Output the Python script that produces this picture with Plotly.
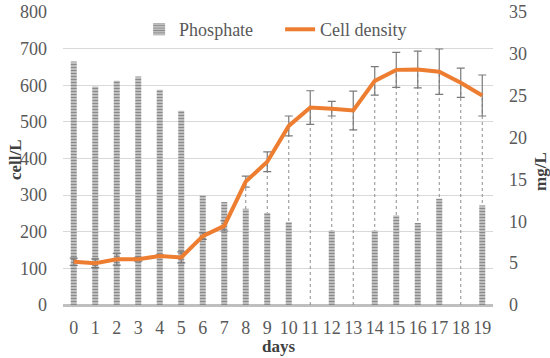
import plotly.graph_objects as go

days = list(range(20))
day_labels = [str(d) for d in days]
cell_density = [118, 114, 125, 125, 134, 130, 188, 216, 337, 391, 489, 539, 536, 531, 612, 642, 643, 637, 607, 572]
cell_err = [10, 12, 16, 5, 3, 15, 9, 14, 15, 27, 27, 46, 20, 53, 39, 48, 50, 62, 40, 56]
phosphate = [29.1, 26.1, 26.8, 27.3, 25.7, 23.2, 13.1, 12.3, 11.5, 11.0, 9.9, None, 8.9, None, 8.9, 10.7, 9.8, 12.7, None, 11.9]

FONT = "Liberation Serif"

drop_x, drop_y = [], []
for d, v in zip(days, cell_density):
    drop_x += [d, d, None]
    drop_y += [0, v, None]

fig = go.Figure()
fig.add_trace(go.Scatter(x=drop_x, y=drop_y, mode="lines", yaxis="y",
                         line=dict(color="#8c8c8c", width=1, dash="dot"),
                         showlegend=False, hoverinfo="skip"))
fig.add_trace(go.Bar(x=days, y=phosphate, name="Phosphate", yaxis="y2", width=0.28,
                     marker=dict(color="#d0d0d0", line=dict(width=0),
                                 pattern=dict(shape="-", fgcolor="#8a8a8a", bgcolor="#d0d0d0",
                                              size=3, solidity=0.5, fillmode="replace"))))
fig.add_trace(go.Scatter(x=days, y=cell_density, name="Cell density", yaxis="y3", mode="lines",
                         line=dict(color="#ED7D31", width=4),
                         error_y=dict(type="data", array=cell_err, color="#7a7a7a",
                                      thickness=1.2, width=4)))

fig.update_layout(
    width=550, height=358,
    margin=dict(l=63, r=57, t=12, b=53, autoexpand=False),
    paper_bgcolor="white", plot_bgcolor="white",
    font=dict(family=FONT, size=18, color="#595959"),
    showlegend=True,
    legend=dict(orientation="h", x=0.177, y=0.94, xanchor="left", yanchor="middle",
                bgcolor="rgba(255,255,255,0)", font=dict(family=FONT, size=18, color="#595959"),
                traceorder="normal", itemwidth=30, entrywidth=96, entrywidthmode="pixels"),
    xaxis=dict(tickmode="array", tickvals=days, ticktext=day_labels, range=[-0.5, 19.5],
               showgrid=False, showline=False, zeroline=False, ticks="",
               ticklabelstandoff=10, tickfont=dict(family=FONT, size=18)),
    yaxis=dict(range=[0, 800], dtick=100, showgrid=True, gridcolor="#d9d9d9", gridwidth=1,
               zeroline=True, zerolinecolor="#bfbfbf", zerolinewidth=2.5,
               showline=False, ticks="", ticklabelstandoff=15,
               tickfont=dict(family=FONT, size=18)),
    yaxis2=dict(range=[0, 35], dtick=5, overlaying="y", side="right", showgrid=False,
                zeroline=False, showline=False, ticks="", ticklabelstandoff=15,
                tickfont=dict(family=FONT, size=18)),
    yaxis3=dict(range=[0, 800], overlaying="y", side="left", visible=False,
                showgrid=False, zeroline=False),
    annotations=[
        dict(text="<b>cell/L</b>", x=15, y=160, showarrow=False,
             textangle=-90, font=dict(family=FONT, size=17, color="#404040")),
        dict(text="<b>mg/L</b>", x=540, y=172, showarrow=False, textangle=-90,
             font=dict(family=FONT, size=17, color="#404040")),
        dict(text="<b>days</b>", x=278, y=346, showarrow=False,
             font=dict(family=FONT, size=17, color="#404040")),
    ],
)
# convert pixel positions of the axis titles to paper coordinates
pw, ph = 550 - 63 - 57, 358 - 12 - 53
for a in fig.layout.annotations:
    a.xref = "paper"; a.yref = "paper"
    a.x = (a.x - 63) / pw
    a.y = (358 - 53 - a.y) / ph
    a.xanchor = "center"; a.yanchor = "middle"

fig.write_html("out.html", config={"displayModeBar": False},
               post_script="document.body.style.margin='0';document.body.style.overflow='hidden';")
